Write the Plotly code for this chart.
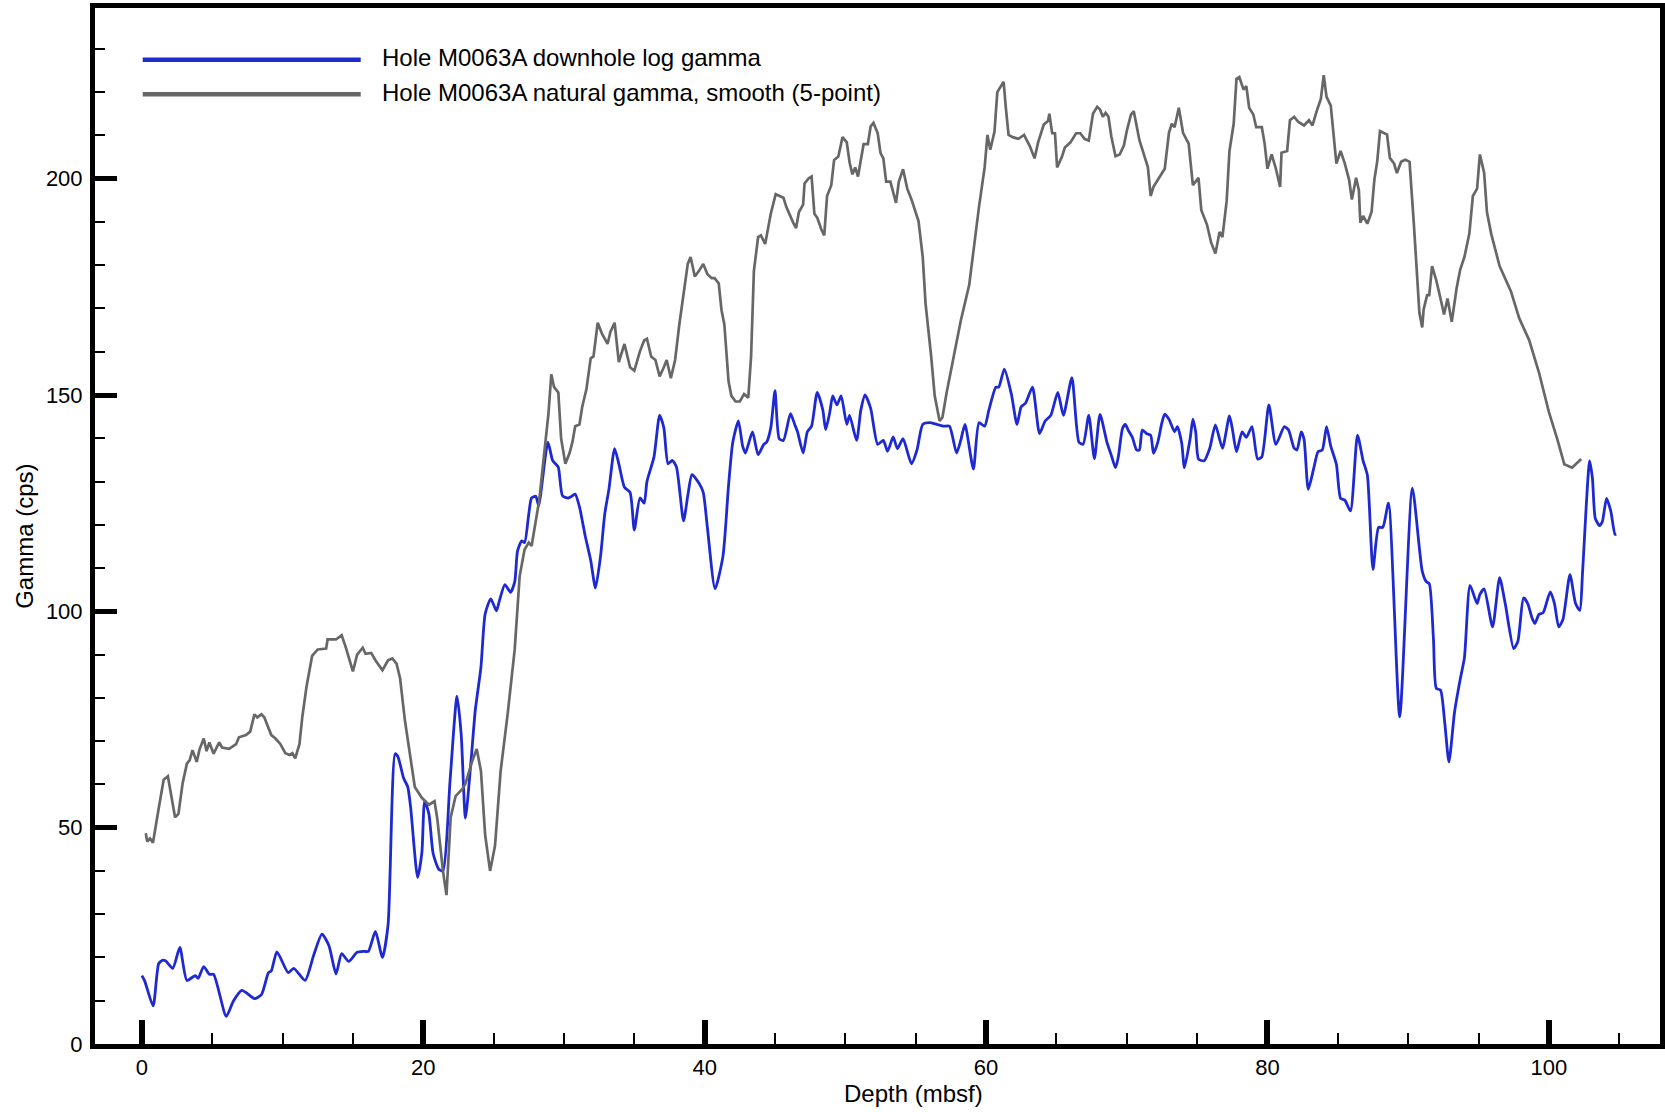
import plotly.graph_objects as go

# ---------------- data ----------------
log_depth = [0.0, 0.2, 0.8, 1.2, 1.5, 1.7, 2.2, 2.7, 3.2, 3.8, 4.0, 4.4, 4.8, 5.1, 6.0, 6.5, 7.1, 7.4, 8.0, 8.5,
             9.0, 9.2, 9.6, 10.4, 10.8, 11.6, 12.2, 12.8, 13.3, 13.8, 14.2, 14.7, 15.3, 15.8, 16.1, 16.6, 17.1, 17.5,
             18.0, 18.2, 18.6, 18.9, 19.1, 19.6, 19.9, 20.1, 20.4, 20.7, 21.1, 21.4, 21.9, 22.4, 22.7, 23.0, 23.4,
             23.7, 24.1, 24.4, 24.8, 25.2, 25.4, 25.8, 26.2, 26.5, 26.7, 27.0, 27.2, 27.5, 27.7, 28.0, 28.2, 28.86,
             29.19, 29.4, 29.6, 29.9, 30.3, 30.6, 30.8, 31.1, 31.5, 31.9, 32.24, 32.6, 32.9, 33.2, 33.6, 33.9, 34.3,
             34.7, 35.0, 35.4, 35.7, 35.9, 36.4, 36.8, 37.1, 37.4, 37.7, 38.0, 38.5, 38.8, 39.1, 39.6, 39.9, 40.2,
             40.74, 41.3, 41.7, 42.0, 42.4, 42.7, 42.9, 43.4, 43.8, 44.2, 44.4, 44.7, 45.0, 45.3, 45.6, 46.1, 46.4,
             46.6, 47.0, 47.3, 47.6, 48.0, 48.4, 48.6, 48.9, 49.1, 49.4, 49.7, 50.1, 50.3, 50.8, 51.1, 51.4, 51.8,
             52.3, 52.7, 53.0, 53.4, 53.7, 54.1, 54.7, 55.1, 55.5, 56.0, 56.5, 57.0, 57.4, 57.9, 58.2, 58.5, 59.1,
             59.5, 59.9, 60.2, 60.7, 60.9, 61.3, 61.8, 62.2, 62.5, 62.8, 63.3, 63.8, 64.2, 64.6, 65.1, 65.5, 66.1,
             66.6, 66.9, 67.3, 67.7, 68.1, 68.6, 68.9, 69.2, 69.4, 69.7, 69.9, 70.1, 70.4, 70.7, 70.9, 71.1, 71.4,
             71.7, 71.9, 72.2, 72.5, 72.7, 73.0, 73.4, 73.6, 73.9, 74.1, 74.5, 74.7, 74.9, 75.1, 75.5, 75.9, 76.3,
             76.8, 77.3, 77.5, 77.8, 78.2, 78.5, 78.9, 79.3, 79.6, 80.1, 80.6, 81.2, 81.5, 81.9, 82.1, 82.4, 82.6,
             82.9, 83.3, 83.6, 83.9, 84.2, 84.5, 84.9, 85.2, 85.5, 85.9, 86.4, 86.8, 87.1, 87.5, 87.9, 88.2, 88.6,
             89.4, 90.3, 91.0, 91.3, 91.5, 91.8, 92.0, 92.3, 92.6, 92.9, 93.3, 93.7, 94.0, 94.4, 94.9, 95.1, 95.4,
             96.0, 96.5, 96.9, 97.5, 97.8, 98.2, 98.5, 98.8, 99.0, 99.3, 99.6, 100.1, 100.4, 100.7, 101.0, 101.5,
             101.9, 102.2, 102.4, 102.9, 103.1, 103.3, 103.6, 103.8, 104.1, 104.4, 104.7, 104.8]
log_gamma = [15.8, 14.6, 8.8, 18.6, 19.4, 19.2, 17.5, 22.3, 14.7, 15.8, 15.2, 17.9, 16.1, 16.1, 6.4, 9.9, 12.4, 11.9,
             10.5, 11.4, 16.5, 16.9, 21.3, 16.5, 17.5, 14.7, 20.4, 25.4, 22.7, 16.2, 20.9, 19.1, 21.2, 21.4, 21.4,
             26.0, 20.0, 27.6, 67.1, 66.4, 61.5, 59.4, 54.8, 38.5, 44.1, 56.1, 53.2, 44.1, 40.4, 40.0, 60.6, 80.4,
             71.4, 52.2, 65.6, 77.2, 87.1, 99.4, 102.9, 100.1, 102.3, 106.2, 104.4, 106.8, 113.9, 116.3, 115.9,
             122.5, 126.2, 126.6, 124.4, 139.1, 134.9, 134.1, 133.3, 126.7, 126.2, 126.7, 127.1, 124.2, 117.6, 111.8,
             105.4, 112.7, 122.5, 128.3, 137.6, 134.1, 128.7, 127.5, 118.8, 126.2, 125.0, 130.0, 135.7, 145.3, 142.4,
             134.1, 134.9, 133.3, 120.9, 126.7, 131.6, 129.6, 127.5, 119.2, 105.2, 112.7, 129.2, 139.1, 144.0, 138.2,
             136.6, 141.5, 136.2, 138.6, 139.1, 142.4, 151.0, 139.9, 139.5, 145.7, 143.2, 141.5, 136.6, 141.5, 142.8,
             150.6, 146.5, 142.0, 146.1, 149.8, 147.7, 149.8, 143.2, 145.3, 139.5, 146.5, 150.0, 146.9, 138.6, 139.5,
             137.0, 140.3, 137.6, 139.9, 134.1, 137.4, 143.2, 143.6, 143.2, 142.8, 142.8, 136.6, 139.5, 143.2, 132.9,
             143.6, 142.8, 146.5, 151.8, 151.8, 156.0, 150.2, 143.2, 147.3, 148.1, 151.8, 141.1, 144.0, 145.3, 150.6,
             145.3, 154.0, 139.1, 138.6, 145.3, 135.3, 145.5, 139.0, 136.1, 133.2, 135.7, 142.3, 143.2, 141.9, 140.2,
             137.3, 137.3, 141.9, 141.1, 140.7, 136.5, 139.0, 143.6, 145.6, 144.4, 141.5, 142.7, 139.0, 133.2, 139.8,
             144.4, 141.5, 135.2, 134.8, 137.7, 143.1, 137.7, 145.2, 142.3, 136.9, 141.5, 140.2, 142.7, 135.2, 135.7,
             147.7, 138.6, 142.7, 141.9, 137.7, 137.3, 141.5, 139.8, 128.2, 133.2, 136.9, 137.3, 142.7, 138.2, 134.0,
             126.1, 125.7, 123.2, 140.7, 134.8, 131.5, 109.7, 119.4, 119.4, 125.0, 75.6, 128.5, 109.3, 106.8, 106.4,
             93.5, 82.2, 81.8, 74.3, 65.2, 76.8, 84.3, 89.3, 106.0, 101.8, 103.9, 105.2, 96.4, 107.8, 101.8, 91.4,
             93.1, 103.1, 101.8, 98.5, 97.2, 99.3, 99.7, 104.5, 101.8, 96.4, 98.1, 108.5, 101.8, 100.2, 109.3, 134.8,
             130.7, 121.5, 119.8, 120.7, 126.1, 123.2, 117.8, 117.8]

ng_depth = [0.28, 0.38, 0.58, 0.79, 1.22, 1.55, 1.85, 2.1, 2.36, 2.6, 2.9, 3.2, 3.4, 3.6, 3.9, 4.1, 4.4, 4.6, 4.8,
            5.1, 5.5, 5.7, 6.2, 6.7, 6.9, 7.4, 7.7, 8.0, 8.2, 8.5, 8.7, 9.2, 9.5, 9.85, 10.2, 10.5, 10.7, 10.9, 11.2,
            11.4, 11.7, 12.1, 12.5, 13.1, 13.2, 13.8, 14.2, 14.5, 14.8, 15.0, 15.3, 15.7, 15.9, 16.3, 16.6, 17.1,
            17.5, 17.8, 18.1, 18.35, 18.7, 19.1, 19.4, 19.9, 20.4, 20.8, 21.0, 21.4, 21.65, 21.95, 22.3, 22.8, 23.0,
            23.5, 23.8, 24.1, 24.4, 24.75, 25.1, 25.5, 26.0, 26.5, 26.85, 27.2, 27.5, 27.7, 28.25, 28.6, 28.9, 29.1,
            29.3, 29.6, 29.8, 30.1, 30.4, 30.6, 30.8, 31.1, 31.3, 31.6, 31.9, 32.1, 32.4, 32.7, 33.1, 33.3, 33.6,
            33.9, 34.3, 34.7, 35.0, 35.4, 35.7, 35.9, 36.2, 36.5, 36.8, 37.1, 37.3, 37.6, 37.9, 38.2, 38.5, 38.8,
            39.0, 39.3, 39.6, 39.9, 40.2, 40.5, 40.7, 41.0, 41.2, 41.4, 41.7, 41.9, 42.2, 42.5, 42.8, 43.1, 43.3,
            43.5, 43.8, 44.0, 44.3, 44.7, 45.05, 45.3, 45.6, 45.8, 46.1, 46.3, 46.5, 46.7, 47.0, 47.1, 47.4, 47.6,
            47.8, 48.0, 48.3, 48.5, 48.7, 49.0, 49.2, 49.5, 49.8, 50.1, 50.3, 50.5, 50.7, 50.9, 51.1, 51.3, 51.6,
            51.8, 52.0, 52.3, 52.5, 52.7, 52.9, 53.2, 53.6, 53.8, 54.1, 54.4, 54.7, 54.9, 55.2, 55.5, 55.7, 56.1,
            56.35, 56.7, 56.9, 57.2, 57.7, 58.2, 58.8, 59.1, 59.5, 59.9, 60.1, 60.3, 60.6, 60.8, 61.1, 61.25, 61.4,
            61.6, 61.9, 62.3, 62.7, 63.1, 63.45, 63.7, 64.1, 64.4, 64.5, 64.7, 64.9, 65.05, 65.4, 65.6, 66.0, 66.4,
            66.7, 67.0, 67.3, 67.6, 67.9, 68.1, 68.3, 68.5, 68.7, 68.9, 69.2, 69.5, 69.8, 70.0, 70.3, 70.5, 70.9,
            71.2, 71.5, 71.7, 71.9, 72.3, 72.7, 73.0, 73.2, 73.4, 73.7, 74.0, 74.4, 74.7, 75.1, 75.3, 75.7, 76.0,
            76.3, 76.6, 76.8, 77.1, 77.3, 77.6, 77.8, 78.0, 78.3, 78.5, 78.7, 79.0, 79.2, 79.6, 79.8, 80.0, 80.3,
            80.6, 80.9, 81.0, 81.4, 81.6, 81.9, 82.2, 82.6, 82.95, 83.2, 83.5, 83.8, 84.0, 84.2, 84.5, 84.9, 85.2,
            85.5, 85.8, 86.0, 86.3, 86.5, 86.6, 86.8, 87.1, 87.4, 87.6, 87.8, 88.0, 88.3, 88.5, 88.7, 89.0, 89.2,
            89.5, 89.8, 90.1, 90.4, 90.6, 90.8, 91.0, 91.1, 91.35, 91.5, 91.7, 92.0, 92.3, 92.55, 92.8, 93.1, 93.45,
            93.7, 94.0, 94.35, 94.6, 94.9, 95.1, 95.4, 95.6, 95.9, 96.5, 97.3, 97.9, 98.6, 99.3, 100.0, 100.6,
            101.1, 101.65, 102.3]
ng_gamma = [48.7, 46.8, 47.5, 46.5, 54.9, 61.1, 61.9, 57.3, 52.4, 53.2, 60.3, 64.8, 65.6, 67.9, 65.2, 68.1, 70.6,
            67.7, 69.7, 67.1, 69.7, 68.5, 68.2, 69.3, 70.9, 71.4, 72.2, 76.2, 75.5, 76.2, 75.5, 71.4, 70.6, 69.3,
            67.2, 66.8, 67.2, 66.0, 69.3, 75.5, 82.5, 89.7, 91.2, 91.4, 93.5, 93.5, 94.5, 91.6, 87.9, 86.1, 90.0,
            91.6, 90.2, 90.4, 88.7, 86.4, 88.7, 89.1, 87.9, 84.6, 74.7, 66.4, 59.4, 56.9, 55.3, 56.1, 52.0, 40.0,
            34.4, 52.4, 57.3, 59.0, 60.2, 65.6, 68.2, 63.1, 48.3, 40.0, 45.8, 63.1, 76.3, 91.2, 108.1, 114.3, 115.9,
            115.1, 125.8, 136.6, 145.7, 154.8, 151.8, 150.6, 139.9, 134.1, 136.6, 139.1, 142.8, 143.2, 147.3, 151.4,
            158.5, 158.9, 166.7, 164.2, 161.8, 164.6, 166.7, 157.6, 161.8, 156.4, 155.6, 160.1, 162.6, 163.0, 158.9,
            158.1, 154.3, 156.4, 158.1, 153.9, 158.1, 166.3, 173.7, 180.3, 181.9, 177.4, 178.7, 180.3, 177.9, 177.0,
            177.0, 175.8, 169.6, 166.3, 153.1, 149.8, 148.5, 148.5, 150.2, 149.4, 158.9, 178.7, 186.5, 186.9, 184.9,
            191.9, 196.4, 196.0, 195.6, 193.5, 191.0, 189.8, 188.6, 192.3, 194.0, 198.9, 200.1, 200.5, 191.9, 191.0,
            188.2, 186.9, 196.0, 198.5, 204.3, 205.1, 209.6, 208.4, 203.8, 201.0, 202.6, 200.5, 204.3, 208.0, 208.0,
            212.1, 212.9, 210.5, 205.9, 204.7, 199.3, 199.3, 194.4, 199.3, 202.2, 197.7, 195.2, 193.1, 190.2, 181.9,
            171.2, 158.9, 149.8, 144.0, 144.8, 150.6, 158.9, 167.1, 175.4, 183.6, 193.5, 202.6, 210.1, 206.7, 210.9,
            220.0, 221.6, 222.4, 216.6, 210.1, 209.6, 209.2, 210.1, 207.6, 204.7, 208.4, 212.5, 213.3, 215.0, 210.5,
            210.5, 202.6, 205.1, 207.2, 208.4, 210.5, 210.5, 209.2, 208.8, 215.0, 216.6, 216.0, 214.3, 215.2, 214.3,
            209.8, 205.2, 205.6, 207.7, 211.0, 214.8, 215.6, 208.9, 205.6, 202.7, 196.0, 198.1, 200.2, 202.3, 210.6,
            212.7, 211.9, 216.4, 210.6, 208.1, 198.5, 200.2, 192.7, 189.4, 185.2, 182.7, 187.7, 186.5, 194.8, 206.4,
            212.7, 223.1, 223.5, 220.6, 221.4, 216.4, 214.8, 211.9, 211.9, 208.1, 202.3, 205.6, 202.3, 198.1, 206.0,
            206.4, 213.5, 214.3, 213.1, 212.3, 213.5, 212.3, 215.6, 218.5, 223.9, 218.9, 216.9, 203.5, 206.4, 203.5,
            199.8, 195.2, 200.2, 197.3, 189.8, 191.4, 189.6, 192.3, 199.8, 203.9, 211.0, 210.6, 210.2, 204.8, 203.5,
            201.3, 203.9, 204.4, 203.9, 189.8, 179.0, 169.0, 165.6, 169.8, 173.1, 173.1, 179.8, 176.5, 172.3, 168.6,
            172.3, 166.9, 174.8, 179.0, 181.9, 187.3, 196.0, 197.7, 205.6, 201.4, 192.3, 187.3, 179.8, 174.0, 167.7,
            162.7, 155.2, 146.1, 139.8, 134.0, 133.2, 135.2]

series_names = ["Hole M0063A downhole log gamma", "Hole M0063A natural gamma, smooth (5-point)"]
series_colors = ["#1f29d0", "#676767"]
x_tick_vals = [0, 20, 40, 60, 80, 100]
y_tick_vals = [0, 50, 100, 150, 200]
x_title = "Depth (mbsf)"
y_title = "Gamma (cps)"

FONT = "Liberation Sans, Arial, Helvetica, sans-serif"

# plot area in pixels: x 95..1660, y 8..1044
fig = go.Figure()
fig.add_trace(go.Scatter(x=log_depth, y=log_gamma, mode="lines", name=series_names[0],
                         line=dict(color=series_colors[0], width=2.8, shape="spline", smoothing=0.6),
                         showlegend=False))
fig.add_trace(go.Scatter(x=ng_depth, y=ng_gamma, mode="lines", name=series_names[1],
                         line=dict(color=series_colors[1], width=2.7),
                         showlegend=False))

# manual legend (long line samples, as in the reference)
legend_rows = [0.9500, 0.9168]
for name, color, yy in zip(series_names, series_colors, legend_rows):
    fig.add_shape(type="line", xref="paper", yref="paper", x0=0.0305, x1=0.1698, y0=yy, y1=yy,
                  line=dict(color=color, width=4.5))
    fig.add_annotation(xref="paper", yref="paper", x=0.1821, y=yy, yshift=2, text=name, showarrow=False,
                       xanchor="left", yanchor="middle", font=dict(family=FONT, size=24, color="black"))

fig.add_annotation(xref="paper", yref="paper", x=0.5227, y=-0.0473, text=x_title, showarrow=False,
                   xanchor="center", yanchor="middle", font=dict(family=FONT, size=24, color="black"))
fig.add_annotation(xref="paper", yref="paper", x=-0.0455, y=0.4903, text=y_title, showarrow=False,
                   textangle=-90, xanchor="center", yanchor="middle",
                   font=dict(family=FONT, size=24, color="black"))

fig.update_layout(
    width=1665, height=1112,
    margin=dict(l=95, r=5, t=8, b=68, pad=0),
    paper_bgcolor="white", plot_bgcolor="white",
    font=dict(family=FONT, size=22, color="black"),
    showlegend=False,
)
fig.update_xaxes(range=[-3.33, 107.9], automargin=False, showline=True, linewidth=5, linecolor="black",
                 mirror=True, showgrid=False, zeroline=False,
                 tickmode="array", tickvals=x_tick_vals, ticks="inside", ticklen=24, tickwidth=6,
                 tickcolor="black", tickfont=dict(family=FONT, size=22, color="black"),
                 minor=dict(tickmode="linear", tick0=0, dtick=5, ticks="inside", ticklen=11, tickwidth=2,
                            tickcolor="black", showgrid=False))
fig.update_yaxes(range=[0, 239.45], automargin=False, showline=True, linewidth=5, linecolor="black",
                 mirror=True, showgrid=False, zeroline=False,
                 tickmode="array", tickvals=y_tick_vals, ticks="inside", ticklen=22, tickwidth=5,
                 tickcolor="black", tickfont=dict(family=FONT, size=22, color="black"),
                 ticklabelstandoff=3,
                 minor=dict(tickmode="linear", tick0=0, dtick=10, ticks="inside", ticklen=10, tickwidth=2,
                            tickcolor="black", showgrid=False))

fig.write_html("out.html")
